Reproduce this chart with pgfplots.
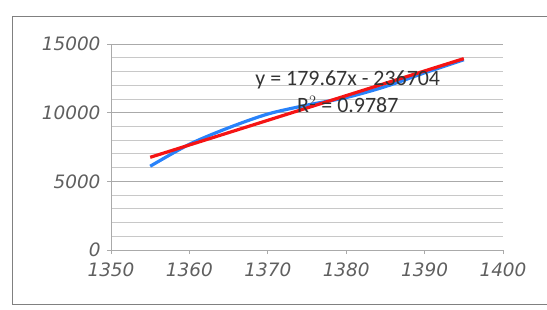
\documentclass[border=0pt]{standalone}
\usepackage{fontspec}
\setmainfont{Carlito}
\newfontfamily\tickfont{DejaVu Sans}
\usepackage{pgfplots}
\pgfplotsset{compat=1.18}
\definecolor{tickgray}{RGB}{95,95,95}
\definecolor{gridgray}{RGB}{170,170,170}
\definecolor{minorgray}{RGB}{200,200,200}
\definecolor{xlblue}{RGB}{40,130,250}
\definecolor{xlred}{RGB}{245,20,20}
\begin{document}
\begin{tikzpicture}[x=1bp,y=1bp]
\useasboundingbox (0,0) rectangle (547,309);
\draw[black!50, line width=0.9bp] (547,293) -- (12.5,293) -- (12.5,5) -- (547,5);
\begin{axis}[
  at={(111bp,59bp)}, anchor=south west,
  scale only axis, width=392bp, height=206bp,
  xmin=1350, xmax=1400, ymin=0, ymax=15000,
  xtick={1350,1360,...,1400}, ytick={0,5000,10000,15000},
  scaled ticks=false,
  minor y tick num=4,
  ymajorgrids, yminorgrids,
  major grid style={gridgray, line width=0.9bp},
  minor grid style={minorgray, line width=0.8bp},
  axis x line*=bottom, axis y line*=left,
  axis line style={gridgray, line width=0.8bp},
  tick style={gridgray, line width=0.8bp},
  major tick length=4bp, minor tick length=0pt,
  tick align=outside,
  x axis line style={-}, y axis line style={-},
  /pgf/number format/1000 sep={},
  /pgf/number format/assume math mode=true,
  ticklabel style={font=\tickfont\itshape\fontsize{18.5}{20}\selectfont, text=tickgray},
  xticklabel style={yshift=-5bp},
  yticklabel style={xshift=-3bp},
]
\addplot[xlblue, line width=3.2bp, smooth, tension=0.5] coordinates {
 (1355,6100) (1360,7700) (1365,8900) (1370,9900) (1375,10550)
 (1380,11100) (1385,11900) (1390,12900) (1395,13850)};
\addplot[xlred, line width=3.2bp] coordinates {(1355,6749) (1395,13936)};
\node[font=\fontsize{22}{24}\selectfont, text=black!80, anchor=center] at (axis cs:1380.2,12400) {y = 179.67x - 236704};
\node[font=\fontsize{22}{24}\selectfont, text=black!80, anchor=center] at (axis cs:1380.2,10600) {R$^2$ = 0.9787};
\end{axis}
\end{tikzpicture}
\end{document}
